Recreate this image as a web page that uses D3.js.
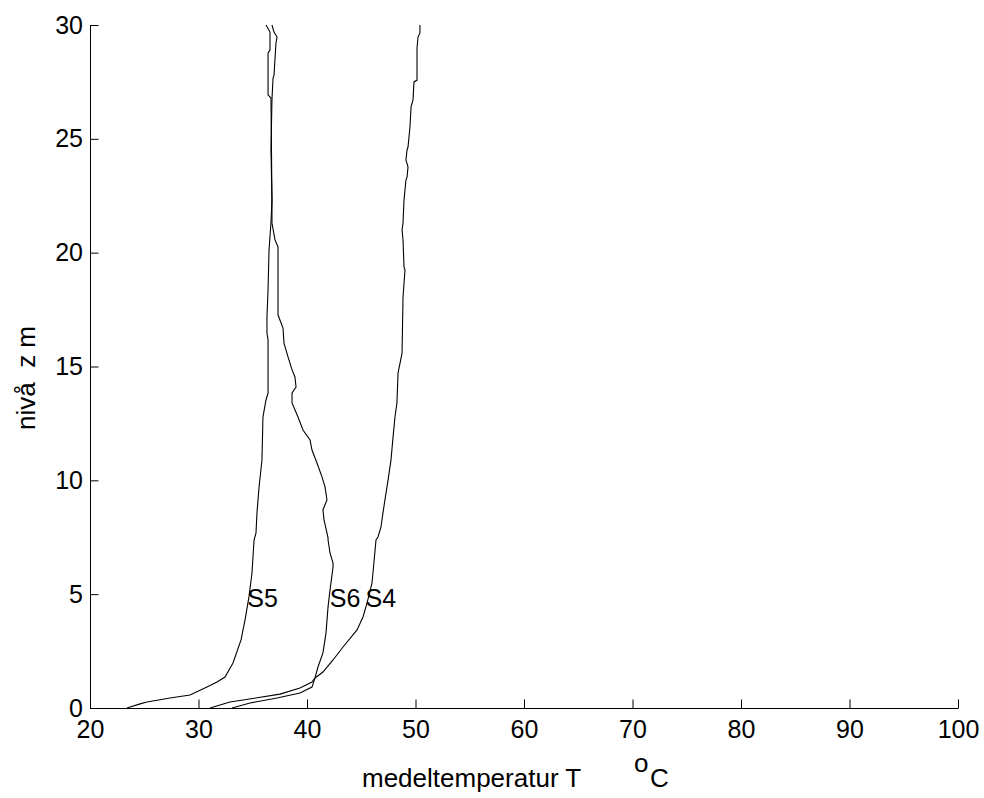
<!DOCTYPE html>
<html>
<head>
<meta charset="utf-8">
<script src="https://cdn.jsdelivr.net/npm/d3@7/dist/d3.min.js"></script>
<style>
  body { margin: 0; background: #fff; }
  svg { display: block; font-family: "Liberation Sans", Arial, Helvetica, sans-serif; }
</style>
</head>
<body>
<svg id="chart" width="984" height="798"></svg>
<script>
// ---- Data (temperature T in °C versus level z in m) ----
const xTicks = [20, 30, 40, 50, 60, 70, 80, 90, 100];
const yTicks = [0, 5, 10, 15, 20, 25, 30];

const tS5 = [23.41,24.61,25.25,27.37,29.22,30.78,31.71,32.44,33.18,33.92,34.29,34.65,34.93,35.12,35.30,35.39,35.58,35.85,35.94,36.22,36.41,36.41,36.31,36.31,36.41,36.50,36.68,36.77,36.68,36.41,36.41,36.59,36.59,36.22];
const zS5 = [0,0.18,0.26,0.44,0.57,0.92,1.14,1.36,1.98,2.99,3.87,4.88,5.93,7.38,7.69,8.57,9.71,10.89,12.78,13.53,13.83,16.16,16.47,17.17,18.36,20.12,21.31,22.31,26.79,26.93,28.77,28.90,29.69,30];

const tS6 = [33.09,34.75,37.24,39.35,40.46,40.74,41.01,41.47,41.75,41.94,42.12,42.40,42.40,42.12,41.94,41.94,41.57,41.47,41.84,41.66,41.38,40.92,40.46,40.28,39.63,39.17,38.62,38.62,38.99,38.89,38.62,38.25,37.88,37.79,37.33,37.33,37.05,36.77,36.77,36.68,36.77,36.87,36.96,37.14,37.24,36.96,36.77];
const zS6 = [0,0.22,0.44,0.66,0.92,1.32,1.80,2.42,3.29,4.44,5.18,6.19,6.37,6.81,7.38,7.47,8.26,8.70,9.14,9.71,10.15,10.76,11.33,11.77,12.21,12.78,13.40,13.84,14.10,14.54,14.85,15.42,16.03,16.69,17.26,20.25,20.56,21.30,22.31,24.51,26.71,27.67,27.80,29.21,29.47,29.69,30];

const tS4 = [31.06,32.90,37.51,39.35,40.46,40.74,41.47,42.40,43.32,44.61,45.16,45.53,45.99,46.08,46.36,46.54,46.82,47.00,47.28,47.47,47.74,47.93,48.11,48.29,48.39,48.76,48.85,49.03,48.94,48.85,48.76,48.85,48.94,49.12,49.22,49.31,49.12,49.22,49.31,49.49,49.59,49.77,49.86,50.14,50.14,50.23,50.41,50.41];
const zS4 = [0,0.26,0.61,0.88,1.14,1.32,1.58,2.11,2.68,3.43,4.00,4.61,5.49,5.93,7.38,7.51,7.95,8.57,9.44,10.01,10.89,11.90,12.78,13.40,14.71,15.59,18.05,19.24,19.37,20.56,21.00,21.30,22.31,23.19,23.32,23.76,24.07,24.51,24.64,25.52,26.40,26.71,27.50,27.58,28.99,29.47,29.65,30];

const labelNames = ["S5", "S6", "S4"];
const labelT = [34.5, 42.1, 45.4];
const labelZ = [4.85, 4.85, 4.85];

const xLabel = "medeltemperatur T";
const xLabelSup = "o";
const xLabelEnd = "C";
const yLabel = "nivå  z m";

// ---- Layout ----
const svg = d3.select("#chart");
const mLeft = 90, mRight = 958, mTop = 25, mBottom = 708;
const fontSize = 25;
const titleSize = 26;

const x = d3.scaleLinear().domain([20, 100]).range([mLeft, mRight]);
const y = d3.scaleLinear().domain([0, 30]).range([mBottom, mTop]);

// Axes (MATLAB style: ticks pointing inward, only left & bottom)
const xAxis = d3.axisBottom(x).tickValues(xTicks).tickSizeInner(-8.5).tickSizeOuter(0).tickPadding(12).tickFormat(d3.format("d"));
const yAxis = d3.axisLeft(y).tickValues(yTicks).tickSizeInner(-8.5).tickSizeOuter(0).tickPadding(7).tickFormat(d3.format("d"));

const gx = svg.append("g").attr("transform", `translate(0,${mBottom})`).call(xAxis);
const gy = svg.append("g").attr("transform", `translate(${mLeft},0)`).call(yAxis);
[gx, gy].forEach(g => {
  g.selectAll("text").attr("font-size", fontSize).attr("fill", "#000").style("font-family", "Liberation Sans, Arial, sans-serif");
  g.selectAll("line").attr("stroke", "#000");
  g.select(".domain").attr("stroke", "#000");
});

// Curves
const line = d3.line().x(d => x(d[0])).y(d => y(d[1]));
const series = [
  d3.zip(tS5, zS5),
  d3.zip(tS6, zS6),
  d3.zip(tS4, zS4)
];
svg.append("g").selectAll("path").data(series).join("path")
  .attr("d", line)
  .attr("fill", "none")
  .attr("stroke", "#000")
  .attr("stroke-width", 1.1);

// Series labels
svg.append("g").selectAll("text").data(labelNames).join("text")
  .attr("x", (d, i) => x(labelT[i]))
  .attr("y", (d, i) => y(labelZ[i]))
  .attr("dy", "0.36em")
  .attr("font-size", fontSize)
  .attr("fill", "#000")
  .text(d => d);

// X axis label with superscript degree "o"
const xl = svg.append("text")
  .attr("x", 362)
  .attr("y", 787)
  .attr("font-size", titleSize)
  .attr("fill", "#000");
xl.append("tspan").text(xLabel);
xl.append("tspan").text(xLabelSup).attr("x", 634).attr("dy", -15);
xl.append("tspan").text(xLabelEnd).attr("x", 650).attr("dy", 15);

// Y axis label
svg.append("text")
  .attr("transform", "translate(35,378) rotate(-90)")
  .attr("text-anchor", "middle")
  .attr("font-size", titleSize)
  .attr("fill", "#000")
  .style("white-space", "pre")
  .text(yLabel);
</script>
</body>
</html>
